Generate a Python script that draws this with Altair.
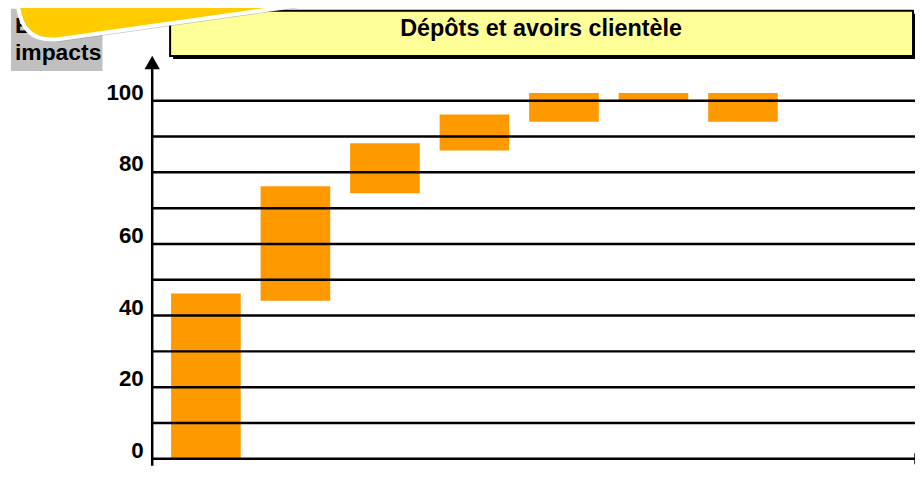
import altair as alt
import pandas as pd

# ---- data ----
categories = ["Étape 1", "Étape 2", "Étape 3", "Étape 4", "Étape 5", "Étape 6", "Étape 7"]
bar_start = [0, 44, 74, 86, 94, 100, 94]
bar_end = [46, 76, 88, 96, 102, 102, 102]
y_ticks = [0, 10, 20, 30, 40, 50, 60, 70, 80, 90, 100]
title_text = "Dépôts et avoirs clientèle"
side_label_1 = "Bonus"
side_label_2 = "impacts"

df = pd.DataFrame({"cat": categories, "start": bar_start, "end": bar_end})
one = alt.Data(values=[{"k": 1}])

FONT = "Liberation Sans"
W, H = 767, 396

xscale = alt.Scale(domain=categories, paddingInner=0.2222, paddingOuter=0.872, align=0.121)
yscale = alt.Scale(domain=[0, 110], nice=False, zero=False)

bars = alt.Chart(df).mark_bar(color="#FF9900", opacity=1).encode(
    x=alt.X("cat:N", scale=xscale, axis=None, sort=categories),
    y=alt.Y("start:Q", scale=yscale, title=None,
            axis=alt.Axis(values=y_ticks, grid=True, gridColor="#000000", gridWidth=2.5,
                          gridOpacity=1, domain=False, ticks=False,
                          labelExpr="datum.value % 20 == 0 ? datum.label : ''",
                          labelFont=FONT, labelFontSize=22.5, labelFontWeight="bold",
                          labelColor="#000000", labelPadding=9, labelOffset=-8,
                          zindex=1)),
    y2="end:Q",
)

# decorations (title box, side label, sticker)
title_shadow = alt.Chart(one).mark_rect(color="#000000").encode(
    x=alt.value(21), x2=alt.value(768), y=alt.value(-51), y2=alt.value(-5.5))
title_box = alt.Chart(one).mark_rect(fill="#FFFF99", stroke="#000000", strokeWidth=2).encode(
    x=alt.value(18), x2=alt.value(765), y=alt.value(-54), y2=alt.value(-8.5))
title_lbl = alt.Chart(one).mark_text(font=FONT, fontSize=23.5, fontWeight="bold", color="#000000",
                                     align="center", baseline="alphabetic").encode(
    x=alt.value(391), y=alt.value(-28.8), text=alt.value(title_text))

gray_box = alt.Chart(one).mark_rect(color="#C0C0C0").encode(
    x=alt.value(-142), x2=alt.value(-50), y=alt.value(-56), y2=alt.value(6.5))
side1 = alt.Chart(one).mark_text(font=FONT, fontSize=23, fontWeight="bold", color="#000000",
                                 align="left", baseline="alphabetic").encode(
    x=alt.value(-138), y=alt.value(-31.5), text=alt.value(side_label_1))
side2 = alt.Chart(one).mark_text(font=FONT, fontSize=23, fontWeight="bold", color="#000000",
                                 align="left", baseline="alphabetic").encode(
    x=alt.value(-138), y=alt.value(-4), text=alt.value(side_label_2))

rr = ("M -0.815,-0.45 L 0.815,-0.45 Q 1,-0.45 1,-0.265 L 1,0.265 Q 1,0.45 0.815,0.45 "
      "L -0.815,0.45 Q -1,0.45 -1,0.265 L -1,-0.265 Q -1,-0.45 -0.815,-0.45 Z")
blob_shadow = alt.Chart(one).mark_point(shape=rr, filled=True, size=160000, angle=352,
                                        color="#808080", opacity=0.45).encode(
    x=alt.value(57.5), y=alt.value(-135))
blob = alt.Chart(one).mark_point(shape=rr, filled=True, size=160000, angle=352,
                                 fill="#FFCC00", stroke="#FFFFFF", strokeWidth=4,
                                 opacity=1, fillOpacity=1, strokeOpacity=1).encode(
    x=alt.value(56), y=alt.value(-137.5))

# axis line with arrow
axis_line = alt.Chart(one).mark_rule(color="#000000", strokeWidth=2.5).encode(
    x=alt.value(0), y=alt.value(4), y2=alt.value(403.5))
arrow = alt.Chart(one).mark_point(shape="triangle-up", filled=True, size=240, color="#000000",
                                  opacity=1).encode(x=alt.value(0), y=alt.value(-2))
end_tick = alt.Chart(one).mark_rule(color="#000000", strokeWidth=1.5).encode(
    x=alt.value(767), y=alt.value(391), y2=alt.value(402))

chart = alt.layer(
    title_shadow, title_box, title_lbl, gray_box, side1, side2,
    blob_shadow, blob, bars, axis_line, arrow, end_tick
).properties(
    width=W, height=H,
    autosize=alt.AutoSizeParams(type="none"),
    padding={"left": 145, "top": 55.5, "right": 0, "bottom": 10},
    background="#FFFFFF",
).configure_view(strokeWidth=0)

chart.save("out.html", embed_options={"renderer": "svg", "actions": False})
